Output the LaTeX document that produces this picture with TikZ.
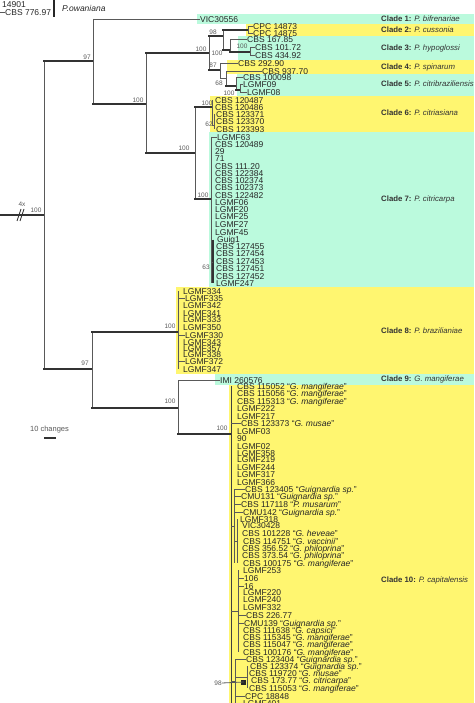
\documentclass[tikz,border=0pt]{standalone}
\usepackage{fontspec}
\setmainfont{Liberation Sans}
\usepackage{tikz}
\usetikzlibrary{positioning}
\definecolor{cladegreen}{RGB}{187,250,221}
\definecolor{cladeyellow}{RGB}{255,246,112}
\newcommand{\qsp}[1]{“\textit{#1}”}

\begin{document}
\begin{tikzpicture}[x=1pt, y=-1pt,
  lf/.style={anchor=west, inner sep=0pt, text height=6.2pt, text depth=0pt, font=\fontsize{8.5}{8.5}\selectfont, text=black!85},
  bs/.style={inner sep=0pt, font=\fontsize{6.5}{6.5}\selectfont, text=black!65},
  cl/.style={anchor=west, inner sep=0pt, font=\fontsize{7.8}{7.8}\selectfont, text=black!80},
  br/.style={draw=black!80, line width=2.6pt, line cap=rect},
  tn/.style={draw=black!65, line width=0.8pt},
  band/.style={fill=clade#1}]
\useasboundingbox (0,0) rectangle (474,703);
% clade bands
\fill[band=green] (197,14) rectangle (474,24);
\fill[band=yellow] (246,24) rectangle (474,36);
\fill[band=green] (238,36) rectangle (474,60);
\fill[band=yellow] (227,60) rectangle (474,74);
\fill[band=green] (237,74) rectangle (474,96);
\fill[band=yellow] (210,96) rectangle (474,132);
\fill[band=green] (209,132) rectangle (474,287);
\fill[band=yellow] (176,287) rectangle (474,374);
\fill[band=green] (215,374) rectangle (474,385);
\fill[band=yellow] (229,385) rectangle (474,703);
% outgroup (cut at the top)
\node[lf] (ow1) at (2,4) {14901};
\node[lf] (ow2) at (5,12) {CBS 776.97};
\coordinate (owt) at (0,12); \draw[tn] (owt) -- (ow2.west);
\coordinate (owA) at (54,0); \coordinate (owB) at (54,17);
\draw[black!85, line width=2.5pt] (owA) -- (owB);
\node[lf, font=\fontsize{8.5}{8.5}\selectfont\itshape] (owsp) at (62,8) {P.owaniana};
% internal nodes
\coordinate (rt) at (0,215);
\coordinate (n0) at (44,215);
\coordinate (n1) at (93,61);
\coordinate (n2) at (146,104);
\coordinate (n3) at (209,53);
\coordinate (n4) at (223,36);
\coordinate (n5) at (248,30);
\coordinate (n6) at (230,50);
\coordinate (n7) at (250,52);
\coordinate (n8) at (220,70);
\coordinate (n9) at (226,78);
\coordinate (n10) at (236,86);
\coordinate (n11) at (240,90);
\coordinate (n12) at (195,153);
\coordinate (n13) at (212,107);
\coordinate (n14) at (214,125);
\coordinate (n15) at (211,199);
\coordinate (n16) at (213,262);
\coordinate (n17) at (92,369);
\coordinate (n18) at (178,332);
\coordinate (n19) at (178,408);
\coordinate (n20) at (231,434);
\coordinate (n21) at (244,682);
\coordinate (k1) at (234,526);
\coordinate (k2) at (237,541);
\coordinate (k3) at (238,611);
\coordinate (k4) at (235,681);
\coordinate (k5) at (247,677);
% clades 1-5
\node[lf] (vic) at (200,19) {VIC30556};
\node[lf] (cpc1) at (253,26.5) {CPC 14873};
\node[lf] (cpc2) at (253,33) {CPC 14875};
\node[lf] (c3a) at (247,39.5) {CBS 167.85};
\node[lf] (c3b) at (255,47.5) {CBS 101.72};
\node[lf] (c3c) at (255,55.5) {CBS 434.92};
\node[lf] (c4a) at (238,63) {CBS 292.90};
\node[lf] (c4b) at (262,71) {CBS 937.70};
\node[lf] (c5a) at (243,77) {CBS 100098};
\node[lf] (c5b) at (243,84.5) {LGMF09};
\node[lf] (c5c) at (247,92) {LGMF08};
% clade 6
\node[lf] (c6a) at (215,100) {CBS 120487};
\node[lf] (c6b) at (215,107) {CBS 120486};
\node[lf] (c6c) at (216,114) {CBS 123371};
\node[lf] (c6d) at (216,121.5) {CBS 123370};
\node[lf] (c6e) at (216,129) {CBS 123393};
% clade 7
\node[lf] (c7a) at (217,137) {LGMF63};
\node[lf] (c7b) at (215,144) {CBS 120489};
\node[lf] (c7c) at (215,151) {29};
\node[lf] (c7d) at (215,158) {71};
\node[lf] (c7e) at (215,166) {CBS 111.20};
\node[lf] (c7f) at (215,173) {CBS 122384};
\node[lf] (c7g) at (215,180) {CBS 102374};
\node[lf] (c7h) at (215,187) {CBS 102373};
\node[lf] (c7i) at (215,195) {CBS 122482};
\node[lf] (c7j) at (215,202.5) {LGMF06};
\node[lf] (c7k) at (215,209.5) {LGMF20};
\node[lf] (c7l) at (215,216.5) {LGMF25};
\node[lf] (c7m) at (215,224) {LGMF27};
\node[lf] (c7n) at (215,232) {LGMF45};
\node[lf] (c7o) at (217,239.5) {Guig1};
\node[lf] (c7p) at (216,246.5) {CBS 127455};
\node[lf] (c7q) at (216,253) {CBS 127454};
\node[lf] (c7r) at (216,261) {CBS 127453};
\node[lf] (c7s) at (216,268.5) {CBS 127451};
\node[lf] (c7t) at (216,276) {CBS 127452};
\node[lf] (c7u) at (216,283) {LGMF247};
% clade 8
\node[lf] (c8a) at (183,291) {LGMF334};
\node[lf] (c8b) at (185,298) {LGMF335};
\node[lf] (c8c) at (183,305.5) {LGMF342};
\node[lf] (c8d) at (183,313) {LGMF341};
\node[lf] (c8e) at (183,319.5) {LGMF333};
\node[lf] (c8f) at (183,327) {LGMF350};
\node[lf] (c8g) at (185,335) {LGMF330};
\node[lf] (c8h) at (183,342) {LGMF343};
\node[lf] (c8i) at (183,348.5) {LGMF357};
\node[lf] (c8j) at (183,354) {LGMF338};
\node[lf] (c8k) at (185,361.5) {LGMF372};
\node[lf] (c8l) at (183,369) {LGMF347};
% clade 9
\node[lf] (imi) at (220,380) {IMI 260576};
% clade 10
\node[lf] (t01) at (237,386) {CBS 115052 \qsp{G. mangiferae}};
\node[lf] (t02) at (237,393) {CBS 115056 \qsp{G. mangiferae}};
\node[lf] (t03) at (237,401) {CBS 115313 \qsp{G. mangiferae}};
\node[lf] (t04) at (237,408) {LGMF222};
\node[lf] (t05) at (237,416) {LGMF217};
\node[lf] (t06) at (241,423) {CBS 123373 \qsp{G. musae}};
\node[lf] (t07) at (237,431) {LGMF03};
\node[lf] (t08) at (237,438) {90};
\node[lf] (t09) at (237,446) {LGMF02};
\node[lf] (t10) at (237,453) {LGMF358};
\node[lf] (t11) at (237,459) {LGMF219};
\node[lf] (t12) at (237,467) {LGMF244};
\node[lf] (t13) at (237,474) {LGMF317};
\node[lf] (t14) at (237,482) {LGMF366};
\node[lf] (t15) at (245,489) {CBS 123405 \qsp{Guignardia sp.}};
\node[lf] (t16) at (241,496) {CMU131 \qsp{Guignardia sp.}};
\node[lf] (t17) at (241,504) {CBS 117118 \qsp{P. musarum}};
\node[lf] (t18) at (243,512) {CMU142 \qsp{Guignardia sp.}};
\node[lf] (t19) at (240,519) {LGMF318};
\node[lf] (t20) at (242,525.5) {VIC30428};
\node[lf] (t21) at (242,533) {CBS 101228 \qsp{G. heveae}};
\node[lf] (t22) at (243,541) {CBS 114751 \qsp{G. vaccinii}};
\node[lf] (t23) at (242,548) {CBS 356.52 \qsp{G. philoprina}};
\node[lf] (t24) at (242,555) {CBS 373.54 \qsp{G. philoprina}};
\node[lf] (t25) at (243,563) {CBS 100175 \qsp{G. mangiferae}};
\node[lf] (t26) at (243,570) {LGMF253};
\node[lf] (t27) at (244,578) {106};
\node[lf] (t28) at (244,586) {16};
\node[lf] (t29) at (243,592.5) {LGMF220};
\node[lf] (t30) at (243,599.5) {LGMF240};
\node[lf] (t31) at (243,607) {LGMF332};
\node[lf] (t32) at (246,615) {CBS 226.77};
\node[lf] (t33) at (244,623) {CMU139 \qsp{Guignardia sp.}};
\node[lf] (t34) at (243,630) {CBS 111638 \qsp{G. capsici}};
\node[lf] (t35) at (243,637) {CBS 115345 \qsp{G. mangiferae}};
\node[lf] (t36) at (243,644) {CBS 115047 \qsp{G. mangiferae}};
\node[lf] (t37) at (243,652) {CBS 100176 \qsp{G. mangiferae}};
\node[lf] (t38) at (246,659) {CBS 123404 \qsp{Guignardia sp.}};
\node[lf] (t39) at (250,666) {CBS 123374 \qsp{Guignardia sp.}};
\node[lf] (t40) at (249,673) {CBS 119720 \qsp{G. musae}};
\node[lf] (t41) at (251,680) {CBS 173.77 \qsp{G. citricarpa}};
\node[lf] (t42) at (249,688) {CBS 115053 \qsp{G. mangiferae}};
\node[lf] (t43) at (245,696) {CPC 18848};
\node[lf] (t44) at (243,703.5) {LGMF401};
% branches, backbone
\draw[br] (rt) -- (n0);
\draw[tn] (n0 |- n1) -- (n0 |- n17);
\draw[br] (n0 |- n1) -- (n1); \draw[br] (n0 |- n17) -- (n17);
% upper clades
\draw[tn] (n1 |- vic) -- (n1 |- n2); \draw[tn] (n1 |- vic) -- (vic.west); \draw[br] (n1 |- n2) -- (n2);
\draw[tn] (n2 |- n3) -- (n2 |- n12); \draw[br] (n2 |- n3) -- (n3); \draw[br] (n2 |- n12) -- (n12);
\draw[tn] (n3 |- n4) -- (n3 |- n8); \draw[br] (n3 |- n4) -- (n4); \draw[br, line width=1.6pt] (n3 |- n8) -- (n8);
\draw[tn] (n4 |- n5) -- (n4 |- n6); \draw[br] (n4 |- n5) -- (n5); \draw[br, line width=1.6pt] (n4 |- n6) -- (n6);
\draw[tn] (n5 |- cpc1) -- (n5 |- cpc2); \draw[tn] (n5 |- cpc1) -- (cpc1.west); \draw[tn] (n5 |- cpc2) -- (cpc2.west);
\draw[tn] (n6 |- c3a) -- (n6 |- n7); \draw[tn] (n6 |- c3a) -- (c3a.west); \draw[br] (n6 |- n7) -- (n7);
\draw[tn] (n7 |- c3b) -- (n7 |- c3c); \draw[tn] (n7 |- c3b) -- (c3b.west); \draw[tn] (n7 |- c3c) -- (c3c.west);
\draw[tn] (n8 |- c4a) -- (n8 |- n9); \draw[tn] (n8 |- c4a) -- (c4a.west); \draw[tn] (n8 |- n9) -- (n9);
\draw[tn] (n9 |- c4b) -- (n9 |- n10); \draw[tn] (n9 |- c4b) -- (c4b.west); \draw[br] (n9 |- n10) -- (n10);
\draw[tn] (n10 |- c5a) -- (n10 |- n11); \draw[tn] (n10 |- c5a) -- (c5a.west); \draw[br, line width=1.6pt] (n10 |- n11) -- (n11);
\draw[tn] (n11 |- c5b) -- (n11 |- c5c); \draw[tn] (n11 |- c5b) -- (c5b.west); \draw[tn] (n11 |- c5c) -- (c5c.west);
\draw[tn] (n12 |- n13) -- (n12 |- n15); \draw[br] (n12 |- n13) -- (n13); \draw[br] (n12 |- n15) -- (n15);
\draw[tn] (n13 |- c6a) -- (n13 |- n14); \draw[tn] (n13 |- n14) -- (n14);
\draw[tn] (n14 |- c6c) -- (n14 |- c6e);
\draw[tn] (n15 |- c7a) -- (n15 |- c7u); \draw[tn] (n15 |- c7a) -- (c7a.west);
\draw[black!80, line width=1.4pt] (n16 |- c7o) -- (n16 |- c7u); \draw[tn] (n15 |- n16) -- (n16);
% lower clades
\draw[tn] (n17 |- n18) -- (n17 |- n19); \draw[br] (n17 |- n18) -- (n18); \draw[br] (n17 |- n19) -- (n19);
\draw[tn] (n18 |- c8a) -- (n18 |- c8l);
\draw[tn] (n18 |- c8b) -- (c8b.west); \draw[tn] (n18 |- c8g) -- (c8g.west); \draw[tn] (n18 |- c8k) -- (c8k.west);
\draw[tn] (n19 |- imi) -- (n19 |- n20); \draw[tn] (n19 |- imi) -- (imi.west); \draw[br] (n19 |- n20) -- (n20);
\draw[black!75, line width=1pt] (n20 |- t01) -- (n20 |- t44);
\draw[tn] (n20 |- t06) -- (t06.west);
\draw[tn] (k1 |- t15) -- (k1 |- t25); \draw[tn] (n20 |- k1) -- (k1);
\draw[tn] (k1 |- t15) -- (t15.west); \draw[tn] (k1 |- t16) -- (t16.west); \draw[tn] (k1 |- t17) -- (t17.west); \draw[tn] (k1 |- t18) -- (t18.west);
\draw[tn] (k2 |- t19) -- (k2 |- t25); \draw[tn] (k1 |- k2) -- (k2);
\draw[tn] (k3 |- t26) -- (k3 |- t37); \draw[tn] (n20 |- k3) -- (k3);
\draw[tn] (k3 |- t27) -- (t27.west); \draw[tn] (k3 |- t28) -- (t28.west); \draw[tn] (k3 |- t32) -- (t32.west); \draw[tn] (k3 |- t33) -- (t33.west);
\draw[tn] (k4 |- t38) -- (k4 |- t44); \draw[tn] (n20 |- k4) -- (k4);
\draw[tn] (k4 |- t38) -- (t38.west); \draw[tn] (k4 |- t43) -- (t43.west);
\draw[tn] (k5 |- t39) -- (k5 |- t42); \draw[tn] (k4 |- k5) -- (k5);
\fill[black!85] ([shift={(-3,-2.5)}]n21) rectangle ([shift={(2,2.5)}]n21);
% support values
\node[bs] (b0) at (36,210) {100};
\node[bs] (b1) at (87,57) {97};
\node[bs] (b2) at (138,100) {100};
\node[bs] (b3) at (201,49) {100};
\node[bs] (b4) at (213,32) {98};
\node[bs] (b5) at (217,53) {100};
\node[bs] (b6) at (242,46) {100};
\node[bs] (b7) at (213,65) {87};
\node[bs] (b8) at (219,83) {68};
\node[bs] (b9) at (229,93) {100};
\node[bs] (b10) at (184,148) {100};
\node[bs] (b11) at (207,103) {100};
\node[bs] (b12) at (209,124) {62};
\node[bs] (b13) at (203,195) {100};
\node[bs] (b14) at (206,267) {63};
\node[bs] (b15) at (85,363) {97};
\node[bs] (b16) at (170,326) {100};
\node[bs] (b17) at (170,401) {100};
\node[bs] (b18) at (222,428) {100};
\node[bs] (b19) at (218,683) {98};
\draw[tn] (b19.east) -- (n21);
% broken root branch
\node[bs] (fx) at (22,204) {4x};
\draw[black!80, line width=0.9pt] (17,221) -- (21,209) (20,221) -- (24,209);
% scale bar
\node[bs, font=\fontsize{7.5}{7.5}\selectfont] (scl) at (49.5,430) {10 changes};
\coordinate (scA) at (44,438); \coordinate (scB) at (56,438);
\draw[black!80, line width=1.2pt] (scA) -- (scB);
% clade names
\node[cl] (cl1) at (381,19) {\textbf{Clade 1:} \textit{P. bifrenariae}};
\node[cl] (cl2) at (381,30) {\textbf{Clade 2:} \textit{P. cussonia}};
\node[cl] (cl3) at (381,48) {\textbf{Clade 3:} \textit{P. hypoglossi}};
\node[cl] (cl4) at (381,67) {\textbf{Clade 4:} \textit{P. spinarum}};
\node[cl] (cl5) at (381,84) {\textbf{Clade 5:} \textit{P. citribraziliensis}};
\node[cl] (cl6) at (381,113) {\textbf{Clade 6:} \textit{P. citriasiana}};
\node[cl] (cl7) at (381,199) {\textbf{Clade 7:} \textit{P. citricarpa}};
\node[cl] (cl8) at (381,331) {\textbf{Clade 8:} \textit{P. brazilianiae}};
\node[cl] (cl9) at (381,379) {\textbf{Clade 9:} \textit{G. mangiferae}};
\node[cl] (cl10) at (381,580) {\textbf{Clade 10:} \textit{P. capitalensis}};
\end{tikzpicture}
\end{document}
